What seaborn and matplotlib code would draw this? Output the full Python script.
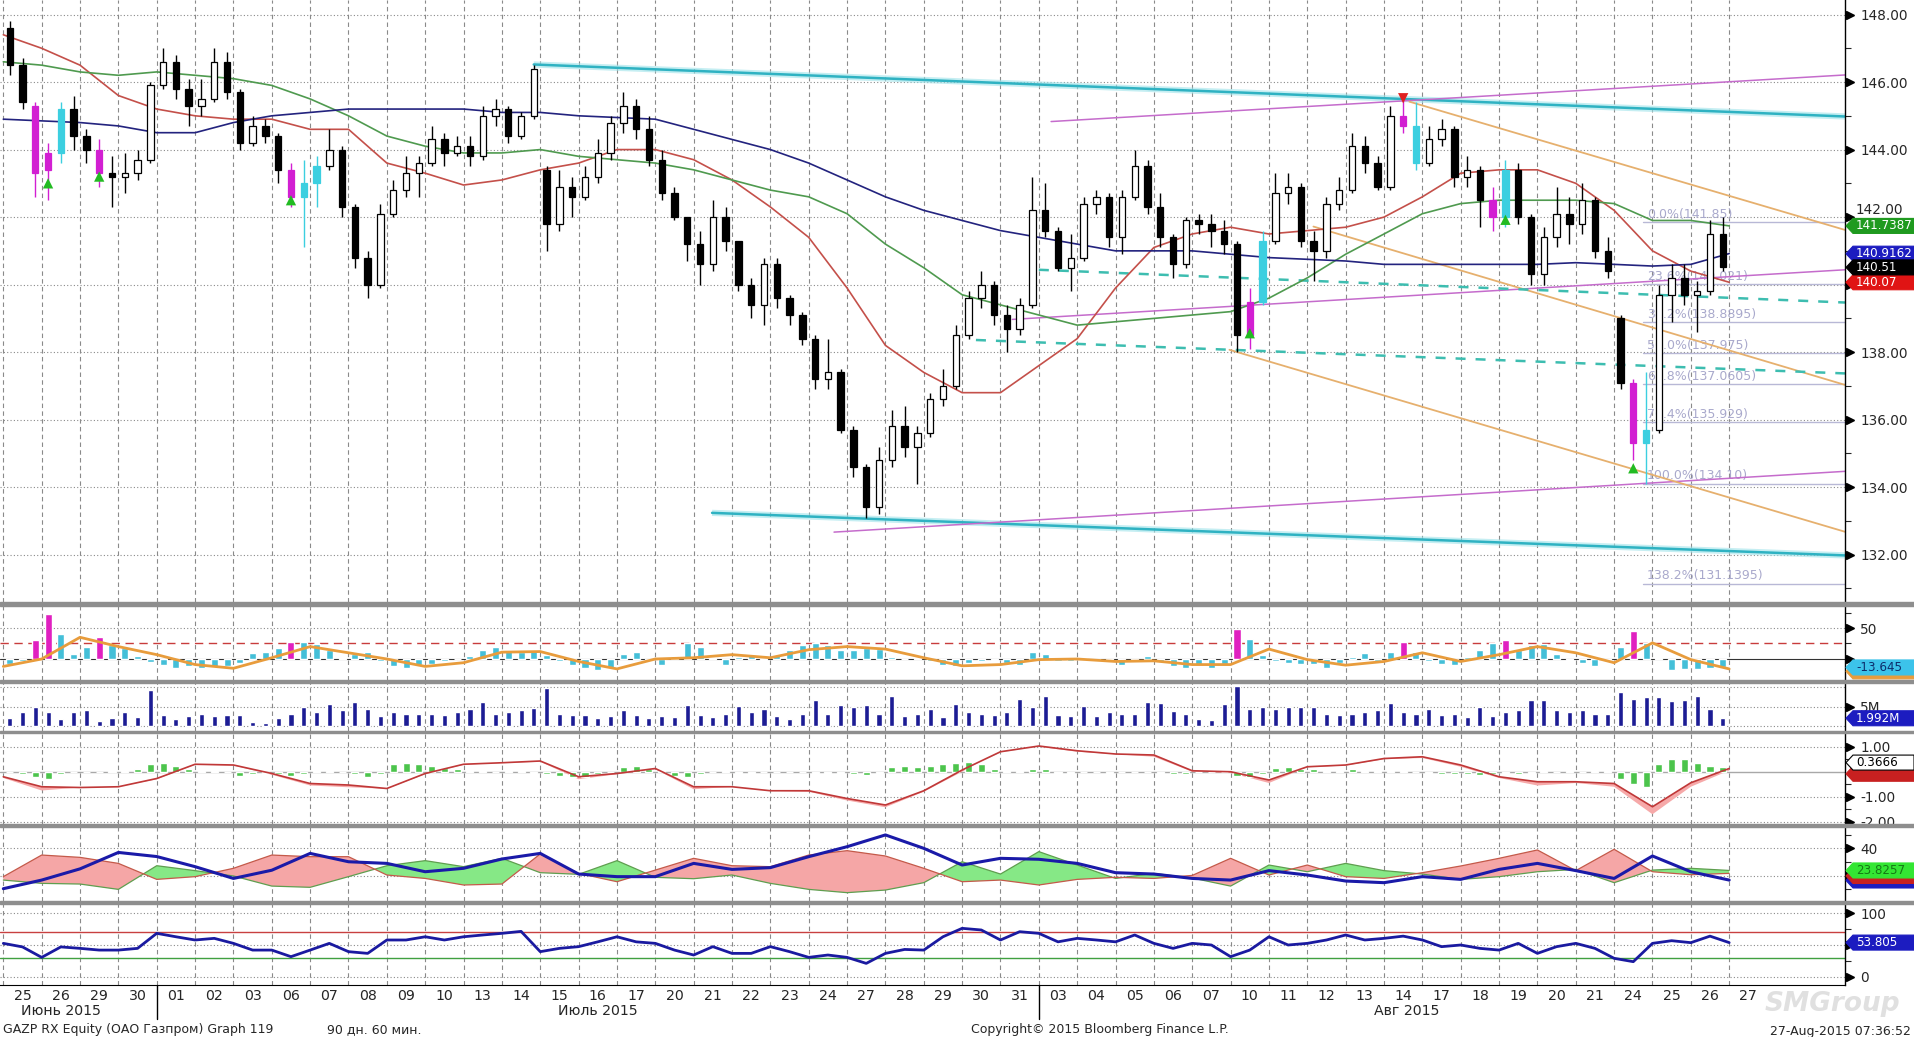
import numpy as np
import matplotlib
matplotlib.use('Agg')
import matplotlib.pyplot as plt
import matplotlib.transforms as mtransforms
from matplotlib.patches import Rectangle
from matplotlib.lines import Line2D
import seaborn as sns

sns.set_style('white')
plt.rcParams['font.family'] = ['DejaVu Sans']

# ---------------- data (3 bars per trading day) ----------------
day_labels = ['25', '26', '29', '30', '01', '02', '03', '06', '07', '08', '09', '10',
              '13', '14', '15', '16', '17', '20', '21', '22', '23', '24', '27', '28',
              '29', '30', '31', '03', '04', '05', '06', '07', '10', '11', '12', '13',
              '14', '17', '18', '19', '20', '21', '24', '25', '26', '27']
month_labels = ['Июнь 2015', 'Июль 2015', 'Авг 2015']
month_pos_day = [1.5, 15.5, 36.6]
month_start_day = [4, 27]

bar_open = [
    147.6, 146.5, 145.3,  143.4, 143.9, 145.2,  144.4, 144.0, 143.3,  143.2, 143.3, 143.7,
    145.9, 146.6, 145.8,  145.3, 145.5, 146.6,  145.7, 144.2, 144.7,  144.4, 143.4, 142.6,
    143.0, 143.5, 144.0,  142.3, 140.8, 140.0,  142.1, 142.8, 143.3,  143.6, 144.3, 143.9,
    144.1, 143.8, 145.0,  145.2, 144.4, 145.0,  143.4, 141.8, 142.9,  142.6, 143.2, 143.9,
    144.8, 145.3, 144.6,  143.7, 142.7, 142.0,  141.2, 140.6, 142.0,  141.3, 140.0, 139.4,
    140.6, 139.6, 139.1,  138.4, 137.2, 137.4,  135.7, 134.6, 133.4,  134.8, 135.8, 135.2,
    135.6, 136.6, 137.0,  138.5, 139.6, 140.0,  139.1, 138.7, 139.4,  142.2, 141.6, 140.5,
    140.8, 142.4, 142.6,  141.4, 142.6, 143.5,  142.3, 141.4, 140.6,  141.9, 141.8, 141.6,
    141.2, 138.5, 139.5,  141.3, 142.7, 142.9,  141.3, 141.0, 142.4,  142.8, 144.1, 143.6,
    142.9, 145.0, 144.7,  143.6, 144.3, 144.6,  143.2, 143.4, 142.5,  142.0, 143.4, 142.0,
    140.3, 141.4, 142.1,  141.8, 142.5, 141.0,  139.0, 137.1, 135.3,  135.7, 139.7, 140.2,
    139.7, 139.8, 141.5,
]
bar_close = [
    146.5, 145.4, 143.3,  143.9, 145.2, 144.4,  144.0, 143.3, 143.2,  143.3, 143.7, 145.9,
    146.6, 145.8, 145.3,  145.5, 146.6, 145.7,  144.2, 144.7, 144.4,  143.4, 142.6, 143.0,
    143.5, 144.0, 142.3,  140.8, 140.0, 142.1,  142.8, 143.3, 143.6,  144.3, 143.9, 144.1,
    143.8, 145.0, 145.2,  144.4, 145.0, 146.4,  141.8, 142.9, 142.6,  143.2, 143.9, 144.8,
    145.3, 144.6, 143.7,  142.7, 142.0, 141.2,  140.6, 142.0, 141.3,  140.0, 139.4, 140.6,
    139.6, 139.1, 138.4,  137.2, 137.4, 135.7,  134.6, 133.4, 134.8,  135.8, 135.2, 135.6,
    136.6, 137.0, 138.5,  139.6, 140.0, 139.1,  138.7, 139.4, 142.2,  141.6, 140.5, 140.8,
    142.4, 142.6, 141.4,  142.6, 143.5, 142.3,  141.4, 140.6, 141.9,  141.8, 141.6, 141.2,
    138.5, 139.5, 141.3,  142.7, 142.9, 141.3,  141.0, 142.4, 142.8,  144.1, 143.6, 142.9,
    145.0, 144.7, 143.6,  144.3, 144.6, 143.2,  143.4, 142.5, 142.0,  143.4, 142.0, 140.3,
    141.4, 142.1, 141.8,  142.5, 141.0, 140.4,  137.1, 135.3, 135.7,  139.7, 140.2, 139.7,
    139.8, 141.5, 140.51,
]
bar_high = [
    147.8, 146.7, 145.4,  144.2, 145.4, 145.6,  144.6, 144.3, 143.8,  143.9, 144.0, 146.0,
    147.0, 146.8, 146.1,  146.1, 147.0, 146.9,  145.8, 145.0, 144.9,  144.5, 143.6, 143.7,
    143.8, 144.6, 144.1,  142.4, 141.0, 142.4,  143.1, 143.8, 143.8,  144.7, 144.5, 144.4,
    144.4, 145.3, 145.5,  145.3, 145.1, 146.5,  143.5, 143.4, 143.2,  143.5, 144.3, 145.0,
    145.7, 145.5, 145.0,  144.0, 142.9, 142.0,  141.6, 142.5, 142.3,  141.3, 140.2, 140.8,
    140.8, 139.7, 139.2,  138.5, 138.4, 137.5,  135.8, 134.7, 135.2,  136.3, 136.4, 135.8,
    136.8, 137.5, 138.8,  139.8, 140.4, 140.1,  139.4, 139.6, 143.2,  143.0, 141.7, 141.5,
    142.6, 142.8, 142.7,  142.8, 144.0, 143.7,  142.7, 141.5, 142.0,  142.1, 142.1, 141.9,
    141.3, 139.9, 141.6,  143.3, 143.3, 143.0,  141.6, 142.6, 143.2,  144.5, 144.4, 143.8,
    145.3, 145.5, 145.4,  144.7, 144.9, 144.7,  143.8, 143.5, 142.9,  143.7, 143.6, 142.1,
    141.7, 142.9, 142.6,  143.0, 142.6, 141.4,  139.1, 137.2, 137.4,  140.0, 140.6, 140.6,
    140.1, 141.9, 142.0,
]
bar_low = [
    146.2, 145.2, 142.6,  142.5, 143.6, 144.0,  143.6, 142.9, 142.3,  142.7, 143.1, 143.6,
    145.8, 145.5, 144.7,  145.0, 145.4, 145.5,  144.0, 144.1, 144.2,  143.0, 142.3, 141.1,
    142.3, 143.4, 142.0,  140.5, 139.6, 139.9,  142.0, 142.6, 142.6,  143.5, 143.5, 143.8,
    143.5, 143.7, 144.7,  144.2, 144.3, 144.9,  141.0, 141.6, 142.0,  142.5, 143.0, 143.7,
    144.5, 144.3, 143.5,  142.5, 141.9, 140.7,  140.0, 140.4, 141.0,  139.8, 139.0, 138.8,
    139.3, 138.8, 138.2,  136.9, 136.9, 135.6,  134.3, 133.1, 133.2,  134.6, 134.9, 134.1,
    135.5, 136.4, 136.9,  138.4, 139.3, 138.8,  138.0, 138.5, 139.3,  141.4, 140.4, 139.8,
    140.7, 142.1, 141.1,  140.9, 142.5, 142.1,  141.1, 140.2, 140.5,  141.5, 141.1, 140.9,
    138.0, 138.1, 139.4,  141.2, 142.4, 141.1,  140.1, 140.8, 142.2,  142.7, 143.3, 142.8,
    142.8, 144.5, 143.4,  143.5, 144.1, 142.9,  142.9, 141.7, 141.6,  141.7, 141.8, 140.0,
    140.0, 141.1, 141.2,  141.5, 140.8, 140.2,  136.9, 134.8, 134.1,  135.6, 138.9, 139.4,
    138.6, 139.7, 140.4,
]
candle_purple = [2, 3, 7, 22, 97, 109, 116, 127]
candle_cyan = [4, 23, 24, 98, 110, 117, 128]

# moving averages, one value per day boundary
ma_red = [147.4, 147.0, 146.5, 145.6, 145.2, 145.0, 144.9, 144.9, 144.6, 144.6, 143.6, 143.3,
          142.95, 143.1, 143.4, 143.6, 144.0, 144.0, 143.7, 143.1, 142.3, 141.4, 139.9, 138.2,
          137.4, 136.8, 136.8, 137.6, 138.4, 139.9, 141.1, 141.5, 141.7, 141.5, 141.6, 141.7,
          142.0, 142.6, 143.3, 143.4, 143.4, 143.0, 142.2, 141.0, 140.4, 140.07]
ma_green = [146.6, 146.5, 146.3, 146.2, 146.3, 146.2, 146.1, 145.9, 145.5, 145.0, 144.4, 144.1,
            143.9, 143.9, 144.0, 143.8, 143.7, 143.6, 143.4, 143.1, 142.8, 142.6, 142.1, 141.2,
            140.5, 139.7, 139.4, 139.1, 138.8, 138.9, 139.0, 139.1, 139.2, 139.6, 140.2, 140.9,
            141.5, 142.1, 142.4, 142.5, 142.5, 142.5, 142.4, 141.9, 141.9, 141.74]
ma_blue = [144.9, 144.85, 144.8, 144.7, 144.5, 144.5, 144.8, 145.0, 145.1, 145.2, 145.2, 145.2,
           145.2, 145.1, 145.1, 145.0, 144.95, 144.9, 144.6, 144.3, 144.0, 143.6, 143.1, 142.6,
           142.2, 141.9, 141.6, 141.4, 141.2, 141.0, 141.0, 141.0, 140.9, 140.8, 140.75, 140.7,
           140.6, 140.6, 140.6, 140.6, 140.6, 140.65, 140.6, 140.55, 140.6, 140.92]

# drawn lines: (start day, start price, end day, end price)
trend_cyan = [(13.83, 146.52, 48.02, 144.98), (18.48, 133.24, 48.02, 131.98)]
trend_magenta = [(27.32, 144.83, 48.02, 146.21), (26.31, 138.97, 48.02, 140.44),
                 (21.66, 132.67, 48.02, 134.47)]
trend_orange = [(36.66, 145.42, 48.02, 141.62), (34.16, 141.72, 48.02, 137.03),
                (31.97, 138.07, 48.02, 132.68)]
trend_dashed = [(27.0, 140.44, 48.02, 139.47), (25.36, 138.36, 48.02, 137.37)]

fib_start_day = 42.75
fib_levels = [141.85, 140.021, 138.8895, 137.975, 137.0605, 135.929, 134.10, 131.1395]
fib_text = ['0.0%(141.85)', '23.6%(140.021)', '38.2%(138.8895)', '50.0%(137.975)',
            '61.8%(137.0605)', '76.4%(135.929)', '100.0%(134.10)', '138.2%(131.1395)']

tri_up_bar = [3, 7, 22, 97, 117, 127]
tri_up_price = [143.0, 143.2, 142.5, 138.56, 141.92, 134.56]
tri_dn_bar = [109]
tri_dn_price = [145.52]

# oscillator panel
osc_hist = [
    -8, -4, 30,  72, 40, 8,  20, 35, 22,  18, 5, -5,  -10, -14, -12,  -14, -13, -12,
    -6, 10, 12,  18, 28, 27,  24, 14, 2,  8, 12, -3,  -12, -14, -10,  -8, -4, 0,
    5, 14, 20,  15, 12, 14,  6, -4, -10,  -14, -17, -15,  8, 12, -3,  -10, 5, 25,
    20, 2, -9,  4, 6, -2,  6, 14, 22,  26, 22, 14,  15, 18, 16,  3, 0, 1,
    -4, -10, -12,  -6, -3, -1,  -6, -10, 12,  8, -3, -4,  2, -2, -4,  -10, -2, 5,
    -5, -12, -14,  -10, -14, -8,  48, 32, 6,  -3, -6, -8,  -8, -14, -6,  4, 10, -4,
    12, 28, 12,  -4, -8, -10,  4, 15, 25,  30, 14, 22,  24, 8, -2,  -6, -12, -2,
    20, 45, 25,  2, -18, -16,  -16, -15, -13.645,
]
osc_hilite = [2, 3, 7, 22, 96, 109, 117, 127]
osc_signal = [-12, 0, 35, 20, 7, -9, -15, 2, 20, 10, 0, -12, -6, 11, 12, -4, -16, 0, 2, 7,
              2, 15, 20, 16, 2, -11, -9, -1, 0, -4, -3, -9, -9, 16, -1, -10, -4, 10, -4, 7,
              20, 10, -6, 26, -1, -16]

# volume, millions
volume = [
    2.0, 3.5, 5.0,  3.7, 1.8, 3.5,  4.0, 1.2, 2.0,  3.5, 2.2, 9.3,  2.8, 1.8, 2.5,
    3.2, 2.5, 2.8,  2.8, 1.0, 0.8,  2.0, 3.0, 5.0,  3.5, 5.8, 4.0,  6.3, 4.5, 2.5,
    3.5, 3.0, 3.2,  3.0, 2.8, 3.5,  4.5, 6.3, 3.2,  3.7, 4.2, 4.6,  9.7, 3.0, 2.8,
    2.8, 2.0, 2.5,  4.1, 2.8, 2.0,  2.5, 2.2, 5.4,  2.8, 2.4, 3.0,  5.2, 3.5, 4.5,
    2.5, 1.8, 3.0,  6.7, 3.0, 5.5,  5.0, 5.5, 3.0,  7.8, 2.5, 3.0,  4.5, 2.2, 5.8,
    3.5, 3.0, 2.8,  3.5, 6.9, 5.0,  7.8, 2.8, 2.5,  5.2, 2.5, 3.5,  3.2, 3.0, 6.3,
    5.9, 3.8, 3.0,  1.8, 1.5, 5.7,  10.2, 4.5, 5.0,  4.5, 5.0, 4.8,  5.0, 3.0, 2.8,
    3.0, 3.5, 4.0,  5.9, 3.5, 3.0,  4.5, 2.8, 3.0,  2.2, 5.0, 2.5,  3.5, 4.0, 6.7,
    6.7, 4.0, 3.5,  4.0, 3.0, 3.2,  8.9, 7.0, 7.6,  7.6, 6.5, 6.7,  7.8, 4.5, 1.992,
]

# MACD panel
macd_hist = [
    0, -0.1, -0.2,  -0.3, -0.1, 0,  0, 0, 0.02,  0.02, 0.1, 0.3,  0.35, 0.25, 0.1,
    0.05, 0.02, 0,  -0.15, -0.1, -0.05,  -0.1, -0.15, -0.1,  0.02, 0.05, 0,  -0.1, -0.2, -0.1,
    0.3, 0.35, 0.3,  0.25, 0.15, 0.1,  0.02, 0.02, 0,  0.05, 0.02, -0.05,  -0.1, -0.15, -0.2,
    -0.2, -0.1, 0,  0.2, 0.25, 0.1,  0.05, -0.15, -0.2,  -0.1, 0, 0.02,  -0.05, -0.05, 0,
    0, 0, 0.01,  -0.05, -0.05, -0.03,  -0.1, -0.12, -0.05,  0.2, 0.25, 0.2,  0.25, 0.3, 0.35,
    0.4, 0.3, 0.1,  0.02, 0.05, 0.1,  0.1, -0.05, -0.05,  -0.02, 0, -0.03,  0, 0.01, 0,
    -0.05, -0.1, -0.1,  0, 0, 0.01,  -0.15, -0.2, -0.1,  0.15, 0.2, 0.1,  0.1, 0.05, 0.02,
    0.1, 0.05, 0.02,  0.05, 0.02, 0,  -0.05, -0.1, -0.1,  -0.1, -0.12, -0.1,  -0.05, -0.1, -0.05,
    0.02, 0, 0.02,  0, 0.02, 0.02,  -0.3, -0.5, -0.6,  0.3, 0.5, 0.5,  0.35, 0.25, 0.2,
]
macd_line = [-0.2, -0.6, -0.63, -0.6, -0.27, 0.3, 0.27, -0.07, -0.47, -0.53, -0.67, -0.07,
             0.3, 0.36, 0.43, -0.2, -0.07, 0.13, -0.6, -0.6, -0.76, -0.76, -1.07, -1.33,
             -0.76, 0.07, 0.8, 1.03, 0.84, 0.71, 0.67, 0.04, 0.0, -0.33, 0.2, 0.27, 0.53,
             0.6, 0.27, -0.2, -0.4, -0.4, -0.47, -1.4, -0.44, 0.13]
macd_signal = [-0.25, -0.75, -0.63, -0.6, -0.3, 0.28, 0.25, -0.12, -0.55, -0.62, -0.68, -0.1,
               0.28, 0.35, 0.4, -0.3, -0.1, 0.1, -0.7, -0.6, -0.76, -0.8, -1.15, -1.42,
               -0.8, 0.0, 0.85, 1.0, 0.8, 0.7, 0.6, 0.0, -0.05, -0.45, 0.18, 0.25, 0.5,
               0.55, 0.2, -0.25, -0.55, -0.45, -0.6, -1.7, -0.6, 0.05]

# DMI panel
adx = [10.5, 16.8, 25, 37, 34, 26.6, 18, 24, 36.3, 30.2, 29, 22.9, 25.4, 32.2, 36.3, 21.2,
       19.3, 19.3, 29, 24.6, 25.9, 33.9, 41.2, 49.8, 40, 27.8, 32.7, 32, 29, 22.2, 21.2, 18,
       16.8, 23.7, 20.5, 16.1, 14.9, 19.3, 17.3, 24.6, 29, 23.7, 18, 34.4, 22.9, 16.8]
plus_di = [16.8, 14.4, 13.9, 10, 27.3, 23.7, 19.8, 12.4, 11.5, 19.3, 27.3, 31, 26.6, 32.7,
           22.2, 21, 31, 18.8, 17.8, 20.5, 14.4, 10, 7.6, 9.5, 14.9, 30.2, 21.2, 37.6, 27.8,
           18, 21.7, 18.3, 12.4, 27.8, 22.9, 29, 23.7, 21.2, 17.3, 19.3, 22.9, 24.6, 14.9,
           24.1, 25.4, 23.83]
minus_di = [19.3, 35.1, 33.4, 29, 17.3, 19.3, 25.4, 35.1, 33.9, 33.9, 20.5, 18, 13.2, 13.9,
            35.9, 21.7, 15.6, 24.1, 32.7, 27.3, 26.6, 35.1, 38.3, 34.4, 25.4, 15.6, 16.8, 13.2,
            17.3, 18.8, 18, 20.2, 32.7, 20.5, 27.8, 19.3, 18, 22.2, 27.1, 32.7, 38.8, 23.7,
            39.3, 22.9, 20.7, 21.7]

# RSI, two values per day
rsi_vals = [52.6, 47, 30.5, 47, 44.7, 42, 42, 44.7, 68.4, 63, 57.9, 60.5, 52.6, 42, 42, 31.6,
            42, 52.6, 39.5, 36.8, 57.9, 57.9, 63, 57.9, 63, 65.8, 68.4, 71.5, 39.5, 44.7, 47.4,
            55, 63, 55, 52.6, 42, 34.2, 47.4, 36.8, 36.8, 47.4, 39.5, 30.5, 34.2, 30.5, 21,
            36.8, 43, 42, 63, 76.3, 73.7, 57.9, 71, 68.4, 55, 60.5, 57.9, 55, 65.8, 52.6, 44.7,
            52.6, 50, 31.6, 42, 63, 50, 52.6, 57.9, 65.8, 57.9, 60.5, 64, 57.9, 47.4, 50, 44.7,
            42, 52.6, 36.8, 47.4, 52.6, 44.7, 29, 23.7, 52.6, 56.8, 53.7, 64, 53.805]

# ---------------- layout ----------------
W_PX, H_PX = 1914.0, 1037.0
AX_R = 1845.0
XMIN, XMAX = -0.26, 144.06
GRID = '#8a8a8a'

fig = plt.figure(figsize=(19.14, 10.37), dpi=100)
fig.patch.set_facecolor('white')


def panel(top, bottom, ylim):
    ax = fig.add_axes([0, 1 - bottom / H_PX, AX_R / W_PX, (bottom - top) / H_PX])
    ax.set_xlim(XMIN, XMAX)
    ax.set_ylim(*ylim)
    for s in ['top', 'left', 'bottom']:
        ax.spines[s].set_visible(False)
    ax.spines['right'].set_color('black')
    ax.spines['right'].set_linewidth(1.0)
    ax.set_facecolor('white')
    for k in range(len(day_labels)):
        ax.axvline(3 * k, color=GRID, lw=0.8, ls=(0, (4, 3)), zorder=0)
    ax.tick_params(axis='x', bottom=False, labelbottom=False)
    return ax


def right_ticks(ax, vals, labels, minor=None, hgrid=None):
    ax.yaxis.tick_right()
    ax.set_yticks(vals)
    ax.set_yticklabels(labels)
    ax.tick_params(axis='y', which='major', length=0, pad=11, labelsize=9.8)
    if minor:
        ax.set_yticks(minor, minor=True)
        ax.tick_params(axis='y', which='minor', length=4, width=0.8, direction='out')
    tr = mtransforms.blended_transform_factory(ax.transAxes, ax.transData)
    ax.plot([1 + 5 / AX_R] * len(vals), vals, ls='none', marker='>', ms=5.5,
            color='black', transform=tr, clip_on=False)
    for v in (hgrid if hgrid is not None else vals):
        ax.axhline(v, color=GRID, lw=0.8, ls=(0, (1, 2)), zorder=0)


def tag(ax, y, text, fc, tc, ec=None, z=6):
    # arrow shaped value box running from the axis to the right edge of the figure
    tr = mtransforms.blended_transform_factory(ax.transAxes, ax.transData)
    y0, y1 = ax.get_ylim()
    hh = 7.5 * (y1 - y0) / (ax.get_position().height * H_PX)
    xs = [1 + 1 / AX_R, 1 + 8 / AX_R, W_PX / AX_R, W_PX / AX_R, 1 + 8 / AX_R]
    ys = [y, y + hh, y + hh, y - hh, y - hh]
    ax.fill(xs, ys, transform=tr, clip_on=False, facecolor=fc, edgecolor=ec or fc,
            lw=0.8, zorder=z)
    if text:
        ax.text(1 + 11 / AX_R, y, text, transform=tr, ha='left', va='center', fontsize=8.6,
                color=tc, clip_on=False, zorder=z + 0.5)


# ---- main price panel ----
ax = panel(0, 602, (130.6, 148.43))
main_ticks = list(range(132, 149, 2))
right_ticks(ax, main_ticks, ['' if v in (140, 142) else '%.2f' % v for v in main_ticks],
            minor=list(range(131, 149, 2)))
# the 142.00 label sits just above the value box that hides its lower half
ax.text(1 + 11 / AX_R, 141.99, '142.00', fontsize=9.8, ha='left', va='bottom',
        transform=mtransforms.blended_transform_factory(ax.transAxes, ax.transData),
        clip_on=False)

bx = np.arange(len(bar_close)) + 0.5
o = np.array(bar_open)
c = np.array(bar_close)
faces, edges = [], []
for i in range(len(c)):
    if i in candle_purple:
        faces.append('#d21fd2'); edges.append('#d21fd2')
    elif i in candle_cyan:
        faces.append('#3ccfe0'); edges.append('#3ccfe0')
    else:
        faces.append('white' if c[i] >= o[i] else 'black'); edges.append('black')
ax.vlines(bx, bar_low, bar_high, colors=edges, lw=1.0, zorder=4)
ax.bar(bx, np.maximum(np.abs(c - o), 0.04), bottom=np.minimum(o, c), width=0.5,
       color=faces, edgecolor=edges, linewidth=0.9, zorder=5)

sns.lineplot(x=np.arange(len(ma_red)) * 3.0, y=ma_red, ax=ax, color='#c4504a', lw=1.2, zorder=3)
sns.lineplot(x=np.arange(len(ma_green)) * 3.0, y=ma_green, ax=ax, color='#4f9a4f', lw=1.2, zorder=3)
sns.lineplot(x=np.arange(len(ma_blue)) * 3.0, y=ma_blue, ax=ax, color='#23237e', lw=1.2, zorder=3)

for d0, p0, d1, p1 in trend_cyan:
    ax.plot([3 * d0, 3 * d1], [p0, p1], color='#9fe3ea', lw=4.5, alpha=0.6, zorder=2,
            solid_capstyle='butt')
    ax.plot([3 * d0, 3 * d1], [p0, p1], color='#2fb2c2', lw=1.8, zorder=2)
for d0, p0, d1, p1 in trend_magenta:
    ax.plot([3 * d0, 3 * d1], [p0, p1], color='#c56ccc', lw=1.1, zorder=2)
for d0, p0, d1, p1 in trend_orange:
    ax.plot([3 * d0, 3 * d1], [p0, p1], color='#e6b06e', lw=1.3, zorder=2)
for d0, p0, d1, p1 in trend_dashed:
    ax.plot([3 * d0, 3 * d1], [p0, p1], color='#3dbdb0', lw=1.8, ls=(0, (4, 4)), zorder=2)

for lv, txt in zip(fib_levels, fib_text):
    ax.plot([3 * fib_start_day, XMAX], [lv, lv], color='#b8b8d6', lw=1.0, zorder=1)
    ax.text(3 * fib_start_day + 0.3, lv + 0.04, txt, fontsize=9, color='#a9a9cc',
            va='bottom', ha='left', zorder=1)

sns.scatterplot(x=np.array(tri_up_bar) + 0.5, y=tri_up_price, ax=ax, marker='^', s=55,
                color='#22bb22', edgecolor='none', zorder=6)
sns.scatterplot(x=np.array(tri_dn_bar) + 0.5, y=tri_dn_price, ax=ax, marker='v', s=55,
                color='#e02020', edgecolor='none', zorder=6)

tag(ax, 141.7387, '141.7387', '#1f9a1f', 'white', z=6)
tag(ax, 140.9162, '140.9162', '#1c1cc0', 'white', z=7)
tag(ax, 140.07, '140.07', '#e01414', 'white', z=8)
tag(ax, 140.51, '140.51', 'black', 'white', z=9)

# ---- oscillator panel ----
ax2 = panel(606, 680, (-33.9, 85.5))
right_ticks(ax2, [0, 50], ['', '50'], minor=[25, 75], hgrid=[50])
ax2.axhline(0, color='#333333', lw=0.8, zorder=1)
ax2.axhline(25, color='#c83c3c', lw=1.0, ls=(0, (6, 4)), zorder=1)
ocol = ['#e020c0' if i in osc_hilite else '#44bfd8' for i in range(len(osc_hist))]
ax2.bar(np.arange(len(osc_hist)) + 0.5, osc_hist, width=0.55, color=ocol, zorder=2)
sns.lineplot(x=np.arange(len(osc_signal)) * 3.0, y=osc_signal, ax=ax2, color='#e89c3c',
             lw=2.0, zorder=3)
tag(ax2, -20, '', '#e89c3c', None, z=6)
tag(ax2, -13.645, '-13.645', '#3cc3ea', '#0d2d6b', z=7)

# ---- volume panel ----
ax3 = panel(683, 731, (-1.3, 11.1))
right_ticks(ax3, [5], ['5M'], hgrid=[0, 5, 10])
ax3.bar(np.arange(len(volume)) + 0.5, volume, width=0.4, color='#1c1c94', zorder=2)
tag(ax3, 1.992, '1.992M', '#1c1cc0', 'white')

# ---- MACD panel ----
ax4 = panel(733, 824, (-2.09, 1.55))
right_ticks(ax4, [-2, -1, 1], ['-2.00', '-1.00', '1.00'], minor=[-1.5, -0.5, 0.5],
            hgrid=[-2, -1, 1])
ax4.axhline(0, color='#a8a8a8', lw=1.0, zorder=1)
mx = np.arange(len(macd_line)) * 3.0
ml = np.array(macd_line)
ms = np.array(macd_signal)
ax4.fill_between(mx, ml, ms, where=ms <= ml, color='#f6a9a9', interpolate=True, lw=0, zorder=2)
ax4.fill_between(mx, ml, ms, where=ms > ml, color='#dadada', interpolate=True, lw=0, zorder=2)
ax4.bar(np.arange(len(macd_hist)) + 0.5, macd_hist, width=0.55, color='#4cc44c', zorder=3)
sns.lineplot(x=mx, y=ml, ax=ax4, color='#c03838', lw=1.2, zorder=4)
tag(ax4, -0.08, '', '#c82020', None, z=6)
tag(ax4, 0.3666, '0.3666', 'white', 'black', ec='black', z=7)

# ---- DMI panel ----
ax5 = panel(827, 901, (1.5, 55.6))
right_ticks(ax5, [20, 40], ['', '40'], minor=[10, 30, 50])
px = np.arange(len(plus_di)) * 3.0
pd_ = np.array(plus_di)
md_ = np.array(minus_di)
ax5.fill_between(px, pd_, md_, where=pd_ >= md_, color='#86e886', interpolate=True, lw=0, zorder=2)
ax5.fill_between(px, pd_, md_, where=md_ > pd_, color='#f5a6a6', interpolate=True, lw=0, zorder=2)
sns.lineplot(x=px, y=pd_, ax=ax5, color='#5f9e4f', lw=0.9, zorder=3)
sns.lineplot(x=px, y=md_, ax=ax5, color='#c45a4a', lw=0.9, zorder=3)
sns.lineplot(x=np.arange(len(adx)) * 3.0, y=adx, ax=ax5, color='#1a1aa8', lw=2.2, zorder=4)
tag(ax5, 16.5, '', '#1c1cc0', None, z=6)
tag(ax5, 19.8, '', '#c82020', None, z=7)
tag(ax5, 23.8257, '23.8257', '#33e633', '#157a15', z=8)

# ---- RSI panel ----
ax6 = panel(904, 985, (-13.1, 114.7))
right_ticks(ax6, [0, 50, 100], ['0', '', '100'], minor=[25, 75])
ax6.axhline(70, color='#c84040', lw=1.0, zorder=1)
ax6.axhline(30, color='#40a040', lw=1.0, zorder=1)
sns.lineplot(x=np.arange(len(rsi_vals)) * 1.5, y=rsi_vals, ax=ax6, color='#1a1aa0', lw=2.0,
             zorder=3)
tag(ax6, 53.805, '53.805', '#1c1cc0', 'white')

ax6.spines['bottom'].set_visible(True)
ax6.spines['bottom'].set_color('black')
ax6.set_xticks(np.arange(len(day_labels)) * 3.0 + 1.5)
ax6.set_xticklabels(day_labels)
ax6.tick_params(axis='x', bottom=False, labelbottom=True, length=0, pad=3, labelsize=10.2)

for a in [ax, ax2, ax3, ax4, ax5, ax6]:
    a.set_xlabel('')
    a.set_ylabel('')

# separators between panels
for top, bot in [(602, 606), (680, 683), (731, 733), (824, 827), (901, 904)]:
    fig.add_artist(Rectangle((0, 1 - bot / H_PX), 1, (bot - top) / H_PX,
                             transform=fig.transFigure, color='#8e8e8e', zorder=10))

# month labels and month boundaries under the axis
mtr = mtransforms.blended_transform_factory(ax6.transData, fig.transFigure)
for lab, d in zip(month_labels, month_pos_day):
    fig.text(3 * d, 1 - 1011 / H_PX, lab, transform=mtr, ha='center', va='center',
             fontsize=10.2)
for d in month_start_day:
    fig.add_artist(Line2D([3 * d, 3 * d], [1 - 985 / H_PX, 1 - 1019 / H_PX], transform=mtr,
                          color='black', lw=1.0))

fig.text(1832 / W_PX, 1 - 1004 / H_PX, 'SMGroup', ha='center', va='center', fontsize=19,
         color='#e0e0e0', style='italic', fontweight='bold', zorder=0)
fig.text(3 / W_PX, 1 - 1030 / H_PX, 'GAZP RX Equity (ОАО Газпром) Graph 119', ha='left',
         va='center', fontsize=9)
fig.text(374 / W_PX, 1 - 1030 / H_PX, '90 дн. 60 мин.', ha='center', va='center', fontsize=9)
fig.text(1100 / W_PX, 1 - 1030 / H_PX, 'Copyright© 2015 Bloomberg Finance L.P.', ha='center',
         va='center', fontsize=9)
fig.text(1911 / W_PX, 1 - 1031 / H_PX, '27-Aug-2015 07:36:52', ha='right', va='center',
         fontsize=9)

fig.savefig('out.png', dpi=100)
